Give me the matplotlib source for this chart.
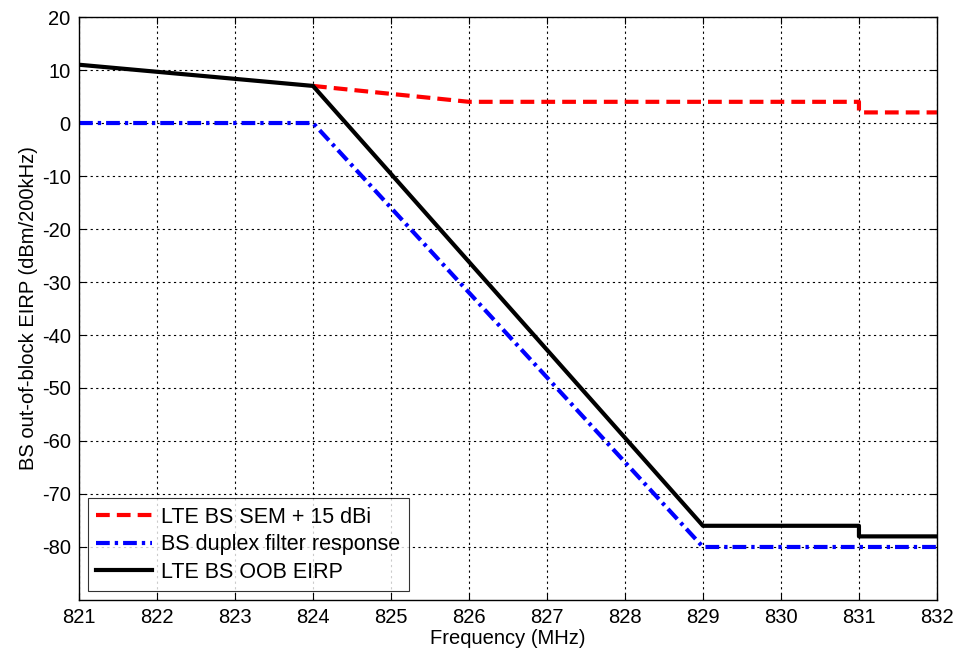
import matplotlib
matplotlib.use("Agg")
import matplotlib.pyplot as plt

plt.rcParams['font.family'] = ['Liberation Sans', 'DejaVu Sans']
plt.rcParams['axes.unicode_minus'] = False

sem_x = [824, 826, 831, 831, 832]
sem_y = [7, 4, 4, 2, 2]
filt_x = [821, 824, 829, 832]
filt_y = [0, 0, -80, -80]
oob_x = [821, 824, 829, 831, 831, 832]
oob_y = [11, 7, -76, -76, -78, -78]

xticks = list(range(821, 833))
yticks = list(range(-80, 21, 10))

fig = plt.figure(figsize=(9.59, 6.55), dpi=100)
ax = fig.add_axes([0.0824, 0.084, 0.8946, 0.890])
ax.plot(sem_x, sem_y, color='#ff0000', linestyle=(0, (3.3, 1.7)), linewidth=3, label='LTE BS SEM + 15 dBi')
ax.plot(filt_x, filt_y, color='#0000ff', linestyle=(0, (3.3, 1.2, 0.8, 1.2)), linewidth=3, label='BS duplex filter response')
ax.plot(oob_x, oob_y, color='black', linestyle='-', linewidth=3, label='LTE BS OOB EIRP')
ax.set_xlim(821, 832)
ax.set_ylim(-90, 20)
ax.set_xticks(xticks)
ax.set_yticks(yticks)
ax.grid(True, color='black', linestyle=(0, (2, 3)), linewidth=0.8)
ax.tick_params(direction='in', labelsize=14.5, length=5, width=0.8, top=True, right=True, pad=6)
for s in ax.spines.values():
    s.set_linewidth(1.0)
ax.set_xlabel('Frequency (MHz)', fontsize=14.5, labelpad=1)
ax.set_ylabel('BS out-of-block EIRP (dBm/200kHz)', fontsize=14.5, labelpad=3)
leg = ax.legend(loc='lower left', fontsize=15.5, frameon=True, fancybox=False, edgecolor='black',
                borderaxespad=0.4, handlelength=2.6, handletextpad=0.4, labelspacing=0.3,
                borderpad=0.4)
leg.get_frame().set_linewidth(0.8)
fig.savefig('out.png', dpi=100)
